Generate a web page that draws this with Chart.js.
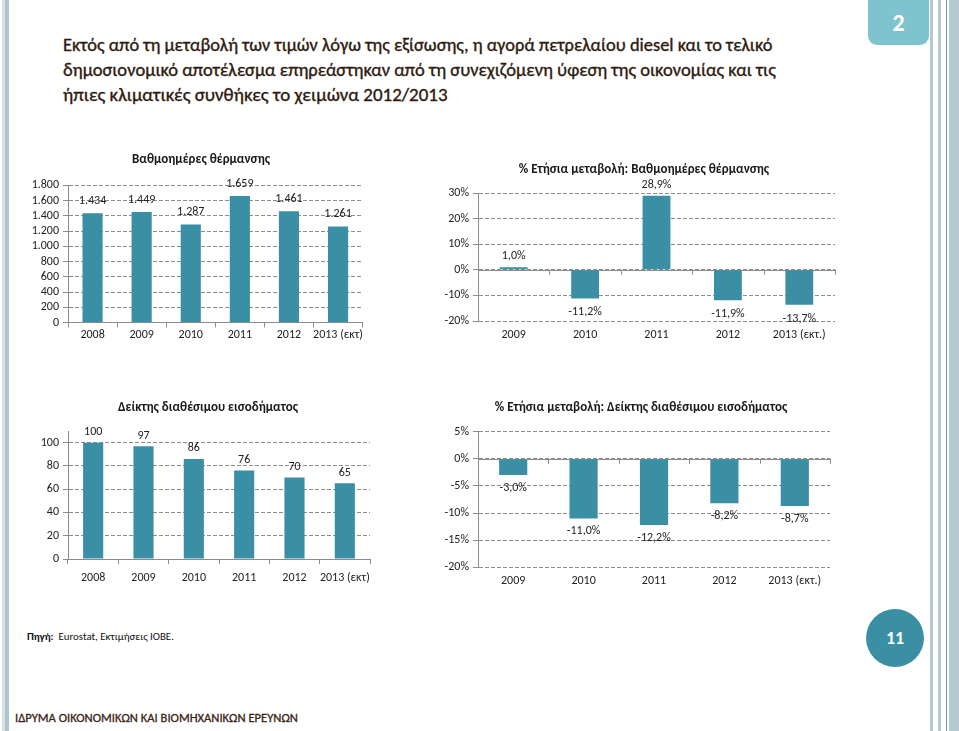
<!DOCTYPE html>
<html><head><meta charset="utf-8">
<script src="https://cdn.jsdelivr.net/npm/chart.js@4.4.1/dist/chart.umd.min.js"></script>
<style>
html,body{margin:0;padding:0;background:#fff;}
body{width:959px;height:731px;position:relative;overflow:hidden;font-family:Carlito,Roboto,sans-serif;}
.abs{position:absolute;}
canvas{position:absolute;}
.hl{position:absolute;left:63px;white-space:nowrap;color:#2e1a10;font-size:17px;line-height:20px;-webkit-text-stroke:0.35px #2e1a10;}
</style></head><body>
<div class="abs" style="left:2px;top:0;width:3px;height:731px;background:#d6e2e6"></div>
<div class="abs" style="left:5px;top:0;width:4px;height:731px;background:#aec5cd"></div>
<div class="abs" style="left:930px;top:0;width:3px;height:731px;background:#b4c9d0"></div>
<div class="abs" style="left:938px;top:0;width:3px;height:731px;background:#b4c9d0"></div>
<div class="abs" style="left:946px;top:0;width:1px;height:731px;background:#6f9fad"></div>
<div class="abs" style="left:949px;top:0;width:10px;height:731px;background:#b4c9d0"></div>
<div class="abs" style="left:868px;top:0;width:61px;height:45px;background:#7fc3cf;border-radius:0 0 9px 9px;color:#fff;font-weight:bold;font-size:24px;line-height:46px;text-align:center;">2</div>

<span class="hl" id="h1" style="top:35px">Εκτός από τη μεταβολή των τιμών λόγω της εξίσωσης, η αγορά πετρελαίου diesel και το τελικό</span>
<span class="hl" id="h2" style="top:60px">δημοσιονομικό αποτέλεσμα επηρεάστηκαν από τη συνεχιζόμενη ύφεση της οικονομίας και τις</span>
<span class="hl" id="h3" style="top:85px">ήπιες κλιματικές συνθήκες το χειμώνα 2012/2013</span>

<canvas id="c1" width="402" height="215" style="left:0;top:140px"></canvas>
<canvas id="c2" width="408" height="205" style="left:440px;top:150px"></canvas>
<canvas id="c3" width="416" height="210" style="left:0;top:390px"></canvas>
<canvas id="c4" width="402" height="215" style="left:440px;top:390px"></canvas>

<span class="abs" id="src" style="left:27px;top:630px;font-size:11px;color:#111;white-space:nowrap;"><b>Πηγή:</b>&nbsp; Eurostat, Εκτιμήσεις ΙΟΒΕ.</span>
<div class="abs" style="left:866px;top:609px;width:58px;height:58px;border-radius:50%;background:#3a8fa5;color:#fff;font-weight:bold;font-size:18px;line-height:58px;text-align:center;">11</div>
<span class="abs" id="foot" style="left:15px;top:710px;font-size:13px;color:#3b2417;white-space:nowrap;-webkit-text-stroke:0.3px #3b2417;">ΙΔΡΥΜΑ ΟΙΚΟΝΟΜΙΚΩΝ ΚΑΙ ΒΙΟΜΗΧΑΝΙΚΩΝ ΕΡΕΥΝΩΝ</span>

<script>
// ---- data ----
const years6 = ['2008','2009','2010','2011','2012','2013 (εκτ)'];
const years5 = ['2009','2010','2011','2012','2013 (εκτ.)'];
const degreeDays = [1434,1449,1287,1659,1461,1261];
const degreeDaysChange = [1.0,-11.2,28.9,-11.9,-13.7];
const incomeIndex = [100,97,86,76,70,65];
const incomeIndexChange = [-3.0,-11.0,-12.2,-8.2,-8.7];
// tick values of each value axis
const degreeDaysTicks = [0,200,400,600,800,1000,1200,1400,1600,1800];
const degreeDaysChangeTicks = [-20,-10,0,10,20,30];
const incomeIndexTicks = [0,20,40,60,80,100];
const incomeIndexChangeTicks = [-20,-15,-10,-5,0,5];
const titles = ['Βαθμοημέρες θέρμανσης','% Ετήσια μεταβολή: Βαθμοημέρες θέρμανσης','Δείκτης διαθέσιμου εισοδήματος','% Ετήσια μεταβολή: Δείκτης διαθέσιμου εισοδήματος'];

// fit header text widths
function fit(id, target){const el=document.getElementById(id);const fs=parseFloat(getComputedStyle(el).fontSize);const w=el.getBoundingClientRect().width;el.style.fontSize=(fs*target/w)+'px';}
fit('h1',710); fit('h2',713); fit('h3',385); fit('src',147); fit('foot',283);

const FONT = 'Carlito, Roboto, sans-serif';
Chart.defaults.font.family = FONT;
Chart.defaults.color = '#222';
const BAR = '#3a8fa5';
const AX = '#8c8c8c';
const thou = v => String(v).replace(/\B(?=(\d{3})+(?!\d))/g,'.');
const pct1 = v => v.toFixed(1).replace('.',',') + '%';
const pct0 = v => v + '%';

const decor = {
  id:'decor',
  beforeDatasetsDraw(chart, args, o){
    if(!o.zeroLine) return;
    const ctx=chart.ctx, xs=chart.scales.x, y=chart.scales.y.getPixelForValue(0), a=chart.chartArea;
    ctx.save(); ctx.strokeStyle=AX; ctx.lineWidth=1; ctx.beginPath();
    ctx.moveTo(a.left,Math.round(y)+0.5); ctx.lineTo(a.right,Math.round(y)+0.5);
    const n=chart.data.labels.length;
    for(let i=1;i<=n;i++){
      const bx = i<n ? (xs.getPixelForValue(i-1)+xs.getPixelForValue(i))/2 : a.right;
      ctx.moveTo(Math.round(bx)+0.5,y); ctx.lineTo(Math.round(bx)+0.5,y+5);
    }
    ctx.stroke(); ctx.restore();
  },
  afterDatasetsDraw(chart, args, o){
    const ctx=chart.ctx, meta=chart.getDatasetMeta(0), data=chart.data.datasets[0].data;
    ctx.save(); ctx.font='12px '+FONT; ctx.fillStyle='#222'; ctx.textAlign='center';
    meta.data.forEach((b,i)=>{
      const v=data[i], t=o.fmt(v);
      if(v>=0){ctx.textBaseline='bottom'; ctx.fillText(t,b.x,b.y-o.up);}
      else {ctx.textBaseline='top'; ctx.fillText(t,b.x,b.y+o.down);}
    });
    // chart title
    ctx.font='bold 13px '+FONT; ctx.fillStyle='#1a1a1a'; ctx.textBaseline='middle';
    ctx.fillText(o.title, o.tx, o.ty);
    ctx.restore();
  }
};

function make(id, p){
  return new Chart(document.getElementById(id), {
    type:'bar',
    data:{labels:p.labels, datasets:[{data:p.values, backgroundColor:BAR, barPercentage:p.bp, categoryPercentage:1}]},
    options:{
      responsive:false, animation:false, events:[],
      layout:{padding:{left:0,right:p.padR,top:p.padT,bottom:p.padB}},
      plugins:{
        legend:{display:false}, tooltip:{enabled:false}, title:{display:false},
        decor:{fmt:p.fmt, up:p.up, down:p.down, zeroLine:p.zeroLine, title:p.title, tx:p.tx, ty:p.ty}
      },
      scales:{
        x:{
          grid:{display:!p.zeroLine, drawOnChartArea:false, drawTicks:!p.zeroLine, tickLength:5, tickColor:AX, offset:true},
          border:{display:!p.zeroLine, color:AX},
          ticks:{font:{size:12}, padding:p.xPad, maxRotation:0, autoSkip:false, color:'#222'}
        },
        y:{
          min:p.min, max:p.max,
          afterFit(s){s.width=p.yW;},
          afterBuildTicks(s){s.ticks = p.ticks.map(v=>({value:v}));},
          ticks:{autoSkip:false, font:{size:12}, padding:4, color:'#222', callback:(v)=> p.yfmt(v)},
          grid:{color:AX, tickColor:AX, tickLength:5, drawTicks:true},
          border:{display:true, color:AX, dash:[4,2]}
        }
      }
    },
    plugins:[decor]
  });
}

make('c1',{labels:years6, values:degreeDays, ticks:degreeDaysTicks, title:titles[0], min:0, max:1800, yfmt:thou, fmt:thou,
  bp:0.41, yW:68, padR:39.4, padT:45.3, padB:12.1, tx:201, ty:20, xPad:0.5, up:6, down:8, zeroLine:false});
make('c2',{labels:years5, values:degreeDaysChange, ticks:degreeDaysChangeTicks, title:titles[1], min:-20, max:30, yfmt:pct0, fmt:pct1,
  bp:0.39, yW:38, padR:13, padT:43, padB:6, tx:204, ty:20, xPad:6.8, up:5, down:8, zeroLine:true});
make('c3',{labels:years6, values:incomeIndex, ticks:incomeIndexTicks, title:titles[2], min:0, max:110, yfmt:String, fmt:String,
  bp:0.4, yW:68, padR:46, padT:41, padB:8, tx:208, ty:18, xPad:6.8, up:4.5, down:8, zeroLine:false});
make('c4',{labels:years5, values:incomeIndexChange, ticks:incomeIndexChangeTicks, title:titles[3], min:-20, max:5, yfmt:pct0, fmt:pct1,
  bp:0.4, yW:38, padR:12, padT:41.7, padB:10.9, tx:201, ty:18, xPad:6.2, up:5, down:7, zeroLine:true});
</script>
</body></html>
